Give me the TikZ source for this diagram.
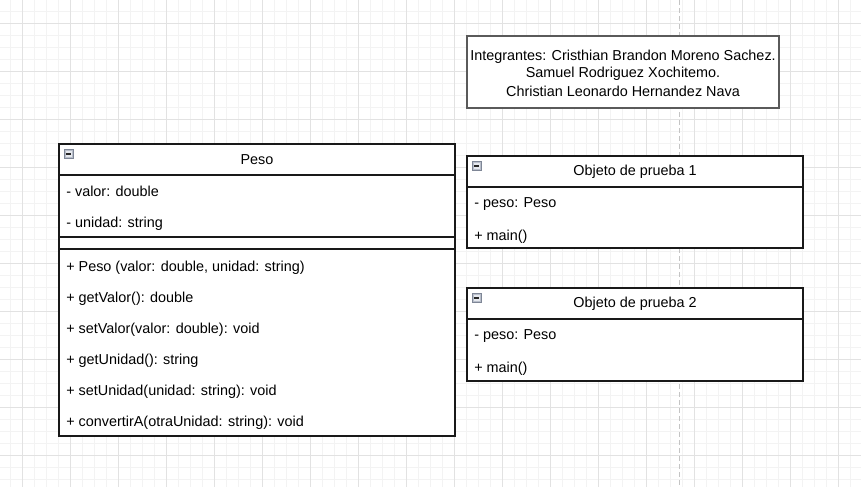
\documentclass[tikz,border=0pt]{standalone}
\usepackage{fontspec}
\setmainfont{Liberation Sans}
\definecolor{gridminor}{HTML}{F3F3F3}
\definecolor{gridmajor}{HTML}{E2E2E2}
\definecolor{dashgray}{HTML}{C4C4C4}
\definecolor{boxgray}{HTML}{5A5A5A}
\definecolor{iconborder}{HTML}{7E8696}
\definecolor{iconfill}{HTML}{B8BECA}
\definecolor{iconinner}{HTML}{E6E9EF}
\tikzset{
  txt/.style={anchor=west,inner sep=0pt,font=\fontsize{10.8}{13}\selectfont},
  ttl/.style={anchor=center,inner sep=0pt,font=\fontsize{10.8}{13}\selectfont},
  classline/.style={draw=black!90,line width=1.1pt},
  notebox/.style={draw=boxgray,line width=1.5pt},
}
\newcommand{\minusicon}[2]{%
  \filldraw[draw=iconborder,fill=iconfill,line width=0.5pt] (#1,#2) rectangle ++(9,9);
  \fill[iconinner] (#1+1.5,#2+1.5) rectangle ++(6,6);
  \draw[black!85,line width=0.9pt] (#1+2,#2+4.5) -- ++(5,0);
}
\begin{document}
\begin{tikzpicture}[x=0.75pt,y=-0.75pt]
\useasboundingbox (0,0) rectangle (861,487);
\fill[white] (0,0) rectangle (861,487);
% grid
\foreach \x in {10,22,...,861} \draw[gridminor,line width=0.75pt] (\x,0) -- (\x,487);
\foreach \y in {11,23,...,487} \draw[gridminor,line width=0.75pt] (0,\y) -- (861,\y);
\foreach \x in {22,70,...,861} \draw[gridmajor,line width=0.75pt] (\x,0) -- (\x,487);
\foreach \y in {23,71,...,487} \draw[gridmajor,line width=0.75pt] (0,\y) -- (861,\y);
\draw[dashgray,line width=0.75pt,dash pattern=on 4pt off 2pt] (679.5,0) -- (679.5,487);

% Integrantes box
\fill[white] (467,36) rectangle (779,108);
\draw[notebox] (467,36) rectangle (779,108);
\node[ttl] (int1) at (623,57) {Integrantes: Cristhian Brandon Moreno Sachez.};
\node[ttl] (int2) at (623,74) {Samuel Rodriguez Xochitemo.};
\node[ttl] (int3) at (623,91) {Christian Leonardo Hernandez Nava};

% Peso class
\fill[white] (59,144) rectangle (455,436);
\draw[classline] (59,144) rectangle (455,436);
\draw[classline] (59,175) -- (455,175);
\draw[classline] (59,237) -- (455,237);
\draw[classline] (59,249) -- (455,249);
\minusicon{64}{149.5}
\node[ttl] (pesot) at (257,160) {Peso};
\node[txt] (pa1) at (66,191.5) {- valor: double};
\node[txt] (pa2) at (66,223.5) {- unidad: string};
\node[txt] (pm1) at (66,267.5) {+ Peso (valor: double, unidad: string)};
\node[txt] (pm2) at (66,298.5) {+ getValor(): double};
\node[txt] (pm3) at (66,329.5) {+ setValor(valor: double): void};
\node[txt] (pm4) at (66,360.5) {+ getUnidad(): string};
\node[txt] (pm5) at (66,391.5) {+ setUnidad(unidad: string): void};
\node[txt] (pm6) at (66,422.5) {+ convertirA(otraUnidad: string): void};

% Objeto de prueba 1
\fill[white] (467,156) rectangle (803,248);
\draw[classline] (467,156) rectangle (803,248);
\draw[classline] (467,187) -- (803,187);
\minusicon{472}{161.5}
\node[ttl] (o1t) at (635,172) {Objeto de prueba 1};
\node[txt] (o1a) at (474,204.5) {- peso: Peso};
\node[txt] (o1m) at (474,236.5) {+ main()};

% Objeto de prueba 2
\fill[white] (467,288) rectangle (803,381);
\draw[classline] (467,288) rectangle (803,381);
\draw[classline] (467,319) -- (803,319);
\minusicon{472}{293.5}
\node[ttl] (o2t) at (635,304) {Objeto de prueba 2};
\node[txt] (o2a) at (474,336.5) {- peso: Peso};
\node[txt] (o2m) at (474,368.5) {+ main()};
\end{tikzpicture}
\end{document}
